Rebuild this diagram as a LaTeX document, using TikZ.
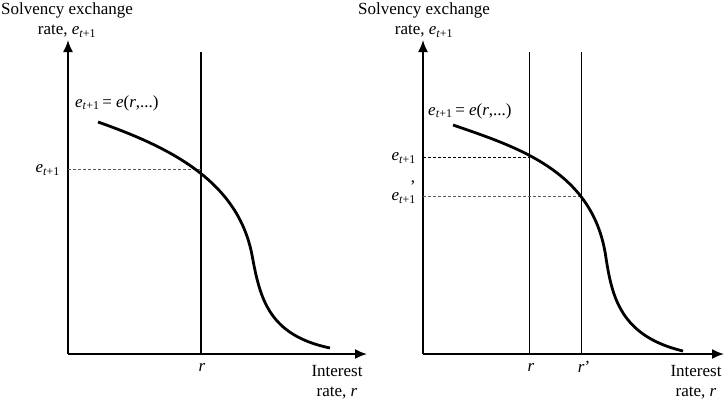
\documentclass[tikz,border=0pt]{standalone}
\usepackage{fontspec}
\setmainfont{Liberation Serif}
\usetikzlibrary{arrows.meta}
\newcommand{\ets}{\textit{e}\textsubscript{\textit{t}+1}}
\begin{document}
\begin{tikzpicture}[x=1pt,y=-1pt,
  axis/.style={line width=1.8pt,-{Latex[length=12pt,width=10pt]}},
  curve/.style={line width=2.8pt},
  thick line/.style={line width=1.6pt},
  thin line/.style={line width=0.8pt},
  guide/.style={dashed,line width=0.6pt,dash pattern=on 3pt off 2pt},
  lbl/.style={font=\fontsize{17}{19}\selectfont,inner sep=0pt,align=center}]
\useasboundingbox (0,0) rectangle (728,405);
% ---------- left panel ----------
\coordinate (O1) at (68,354);
\coordinate (Y1) at (68,40);
\coordinate (X1) at (367,354);
\draw[axis] (O1) -- (Y1);
\draw[axis] (O1) -- (X1);
\coordinate (Rt1) at (201,52);
\coordinate (Rb1) at (201,354);
\draw[thick line] (Rb1) -- (Rt1);
\coordinate (E1) at (201,169);
\coordinate (E1a) at (68,169);
\draw[guide,gray!70!black] (E1a) -- (E1);
\draw[curve] (98,122) .. controls (172,148) and (238,182) .. (252,255)
  .. controls (260,298) and (268,335) .. (330,348);
\node[lbl] (t1) at (67,20) {Solvency exchange\\[1pt]rate, \ets};
\node[lbl,anchor=east] (e1) at (60,170) {\ets};
\node[lbl,anchor=west] (f1) at (75,103) {\ets\,= \textit{e}(\textit{r},...)};
\node[lbl] (r1) at (202,367) {\textit{r}};
\node[lbl] (i1) at (337,382) {Interest\\[1pt]rate, \textit{r}};
% ---------- right panel ----------
\coordinate (O2) at (423,354);
\coordinate (Y2) at (423,40);
\coordinate (X2) at (724,354);
\draw[axis] (O2) -- (Y2);
\draw[axis] (O2) -- (X2);
\coordinate (Rt2) at (529,52);
\coordinate (Rb2) at (529,354);
\coordinate (Qt2) at (581,52);
\coordinate (Qb2) at (581,354);
\draw[thin line] (Rb2) -- (Rt2);
\draw[thin line] (Qb2) -- (Qt2);
\coordinate (E2) at (529,157);
\coordinate (E2a) at (423,157);
\coordinate (F2) at (581,196);
\coordinate (F2a) at (423,196);
\draw[guide] (E2a) -- (E2);
\draw[guide,gray!70!black] (F2a) -- (F2);
\draw[curve] (453,125) .. controls (520,148) and (594,172) .. (606,258)
  .. controls (612,296) and (620,336) .. (683,351);
\node[lbl] (t2) at (424,20) {Solvency exchange\\[1pt]rate, \ets};
\node[lbl,anchor=east] (e2) at (416,158) {\ets};
\node[lbl,anchor=east] (e3) at (416,198) {\ets};
\node[lbl] (pr) at (413,183) {,};
\node[lbl,anchor=west] (f2) at (428,111) {\ets\,= \textit{e}(\textit{r},...)};
\node[lbl] (r2) at (531,367) {\textit{r}};
\node[lbl] (r3) at (584,367) {\textit{r}'};
\node[lbl] (i2) at (696,382) {Interest\\[1pt]rate, \textit{r}};
\end{tikzpicture}
\end{document}
